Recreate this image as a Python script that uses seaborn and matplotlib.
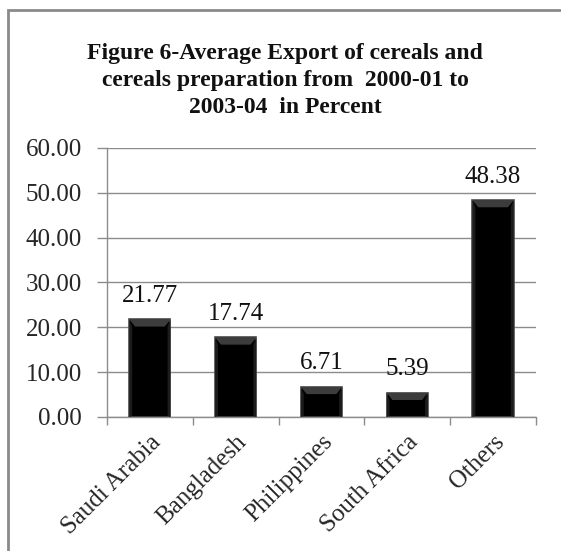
import matplotlib
matplotlib.use("Agg")
import matplotlib.pyplot as plt
from matplotlib.patches import Polygon, Rectangle
import seaborn as sns
import pandas as pd

# Export destinations and their average share (%)
countries = ["Saudi Arabia", "Bangladesh", "Philippines", "South Africa", "Others"]
shares = [21.77, 17.74, 6.71, 5.39, 48.38]
y_ticks = [0, 10, 20, 30, 40, 50, 60]

title = ("Figure 6-Average Export of cereals and\n"
         "cereals preparation from  2000-01 to\n"
         "2003-04  in Percent")

sns.set_theme(style="white")
plt.rcParams["font.family"] = ["Liberation Serif", "DejaVu Serif"]

df = pd.DataFrame({"country": countries, "share": shares})

fig = plt.figure(figsize=(5.61, 5.51), dpi=100)
ax = fig.add_axes([0.1907, 0.2432, 0.9554 - 0.1907, 0.7314 - 0.2432])

sns.barplot(data=df, x="country", y="share", color="black", width=0.48,
            edgecolor="#4d4d4d", linewidth=1.2, saturation=1, ax=ax, zorder=3)

# bevel highlights on each bar
for p in ax.patches:
    x0, y0 = p.get_x(), p.get_y()
    w, h = p.get_width(), p.get_height()
    bx = w * 0.14
    by = min(1.6, h * 0.3)
    top = y0 + h
    ax.add_patch(Polygon([(x0, top), (x0 + w, top), (x0 + w - bx, top - by), (x0 + bx, top - by)],
                         closed=True, facecolor="#3c3c3c", edgecolor="none", zorder=4))
    ax.add_patch(Polygon([(x0, y0), (x0, top), (x0 + bx * 0.5, top - by), (x0 + bx * 0.5, y0 + 0.3)],
                         closed=True, facecolor="#1c1c1c", edgecolor="none", zorder=4))
    ax.add_patch(Polygon([(x0 + w, y0), (x0 + w, top), (x0 + w - bx * 0.5, top - by), (x0 + w - bx * 0.5, y0 + 0.3)],
                         closed=True, facecolor="#1c1c1c", edgecolor="none", zorder=4))

ax.bar_label(ax.containers[0], labels=[f"{v:.2f}" for v in shares], padding=9,
             fontsize=18, color="#111111")

ax.set_ylim(0, 60)
ax.set_xlim(-0.5, len(countries) - 0.5)
ax.set_yticks(y_ticks)
ax.set_yticklabels([f"{t:.2f}" for t in y_ticks], fontsize=18)
ax.yaxis.grid(True, color="#8c8c8c", linewidth=1.0, zorder=0)
ax.set_axisbelow(True)
ax.set_xlabel("")
ax.set_ylabel("")

ax.tick_params(axis="y", length=7, width=1, color="#8c8c8c", pad=11, left=True)
ax.set_xticks(range(len(countries)))
ax.set_xticklabels(countries, rotation=45, ha="right", va="top",
                   rotation_mode="anchor", fontsize=18)
ax.tick_params(axis="x", which="major", length=0, pad=10)
ax.set_xticks([i - 0.5 for i in range(len(countries) + 1)], minor=True)
ax.tick_params(axis="x", which="minor", length=6, width=1, color="#8c8c8c", bottom=True)

for side in ["top", "right"]:
    ax.spines[side].set_visible(False)
for side in ["left", "bottom"]:
    ax.spines[side].set_color("#8c8c8c")
    ax.spines[side].set_linewidth(1.0)

fig.text(285 / 561, 1 - 43 / 551, title, ha="center", va="top",
         fontsize=17, fontweight="bold", linespacing=1.38, color="#111111")

# outer frame, partially cropped on the right and bottom
fig.patches.append(Rectangle((8 / 561, -0.05), 1.2, 1 - 10 / 551 + 0.05,
                             transform=fig.transFigure, fill=False,
                             edgecolor="#8a8a8a", linewidth=2.0))

fig.savefig("out.png", dpi=100, facecolor="white")
